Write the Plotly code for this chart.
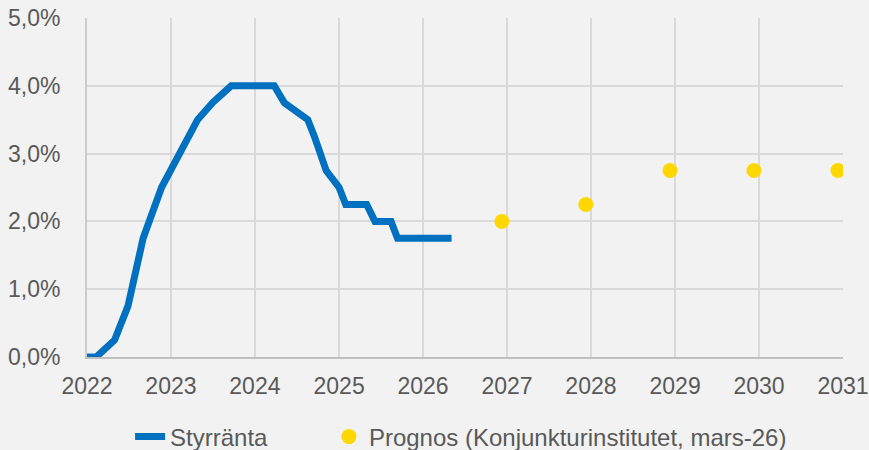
import plotly.graph_objects as go

# Styrränta (policy rate), vertices
rate_dates = ["2022-01-01", "2022-02-10", "2022-05-01", "2022-06-28", "2022-09-02",
              "2022-11-21", "2023-04-27", "2023-07-01", "2023-09-20", "2024-03-25",
              "2024-05-08", "2024-08-18", "2024-09-16", "2024-11-06", "2025-01-01",
              "2025-01-30", "2025-05-01", "2025-06-06", "2025-08-15", "2025-09-12",
              "2026-05-05"]
rate_values = [0.0, 0.0, 0.25, 0.75, 1.75,
               2.5, 3.5, 3.75, 4.0, 4.0,
               3.75, 3.5, 3.25, 2.75, 2.5,
               2.25, 2.25, 2.0, 2.0, 1.75,
               1.75]

# Prognos (Konjunkturinstitutet, mars-26)
fc_dates = ["2026-12-10", "2027-12-10", "2028-12-10", "2029-12-10", "2030-12-10"]
fc_values = [2.0, 2.25, 2.75, 2.75, 2.75]

y_ticks = [0, 1, 2, 3, 4, 5]
y_labels = ["0,0%", "1,0%", "2,0%", "3,0%", "4,0%", "5,0%"]
x_ticks = [f"{y}-01-01" for y in range(2022, 2032)]
x_labels = [str(y) for y in range(2022, 2032)]

font_color = "#595959"

fig = go.Figure()
fig.add_trace(go.Scatter(
    x=rate_dates, y=rate_values, mode="lines", name="Styrränta",
    line=dict(color="#0070c0", width=7), legend="legend",
))
fig.add_trace(go.Scatter(
    x=fc_dates, y=fc_values, mode="markers",
    name="Prognos (Konjunkturinstitutet, mars-26)",
    marker=dict(color="#ffd700", size=15), legend="legend2",
))

legend_common = dict(orientation="h", yanchor="middle", y=-0.236, xanchor="left",
                     font=dict(size=24, color=font_color), bgcolor="rgba(0,0,0,0)",
                     itemwidth=30)

fig.update_layout(
    width=869, height=450,
    paper_bgcolor="#f2f2f2", plot_bgcolor="#f2f2f2",
    margin=dict(l=87, r=26, t=18, b=93, autoexpand=False),
    font=dict(family="Liberation Sans, Arial, sans-serif", size=23, color=font_color),
    showlegend=True,
    legend=dict(x=0.057, **legend_common),
    legend2=dict(x=0.32, **legend_common),
    xaxis=dict(
        type="date", range=["2022-01-01", "2031-01-01"],
        tickmode="array", tickvals=x_ticks, ticktext=x_labels,
        showgrid=True, gridcolor="#d9d9d9", gridwidth=2,
        showline=True, linecolor="#bfbfbf", linewidth=2,
        ticks="", ticklabelstandoff=7, zeroline=False, automargin=False,
    ),
    yaxis=dict(
        range=[0, 5], tickmode="array", tickvals=y_ticks, ticktext=y_labels,
        showgrid=True, gridcolor="#d9d9d9", gridwidth=2,
        showline=True, linecolor="#cccccc", linewidth=2,
        zeroline=False, ticks="", ticklabelstandoff=20, automargin=False,
    ),
)

fig.write_html("out.html", config={"displayModeBar": False},
               post_script="document.body.style.margin='0';document.documentElement.style.overflow='hidden';")
